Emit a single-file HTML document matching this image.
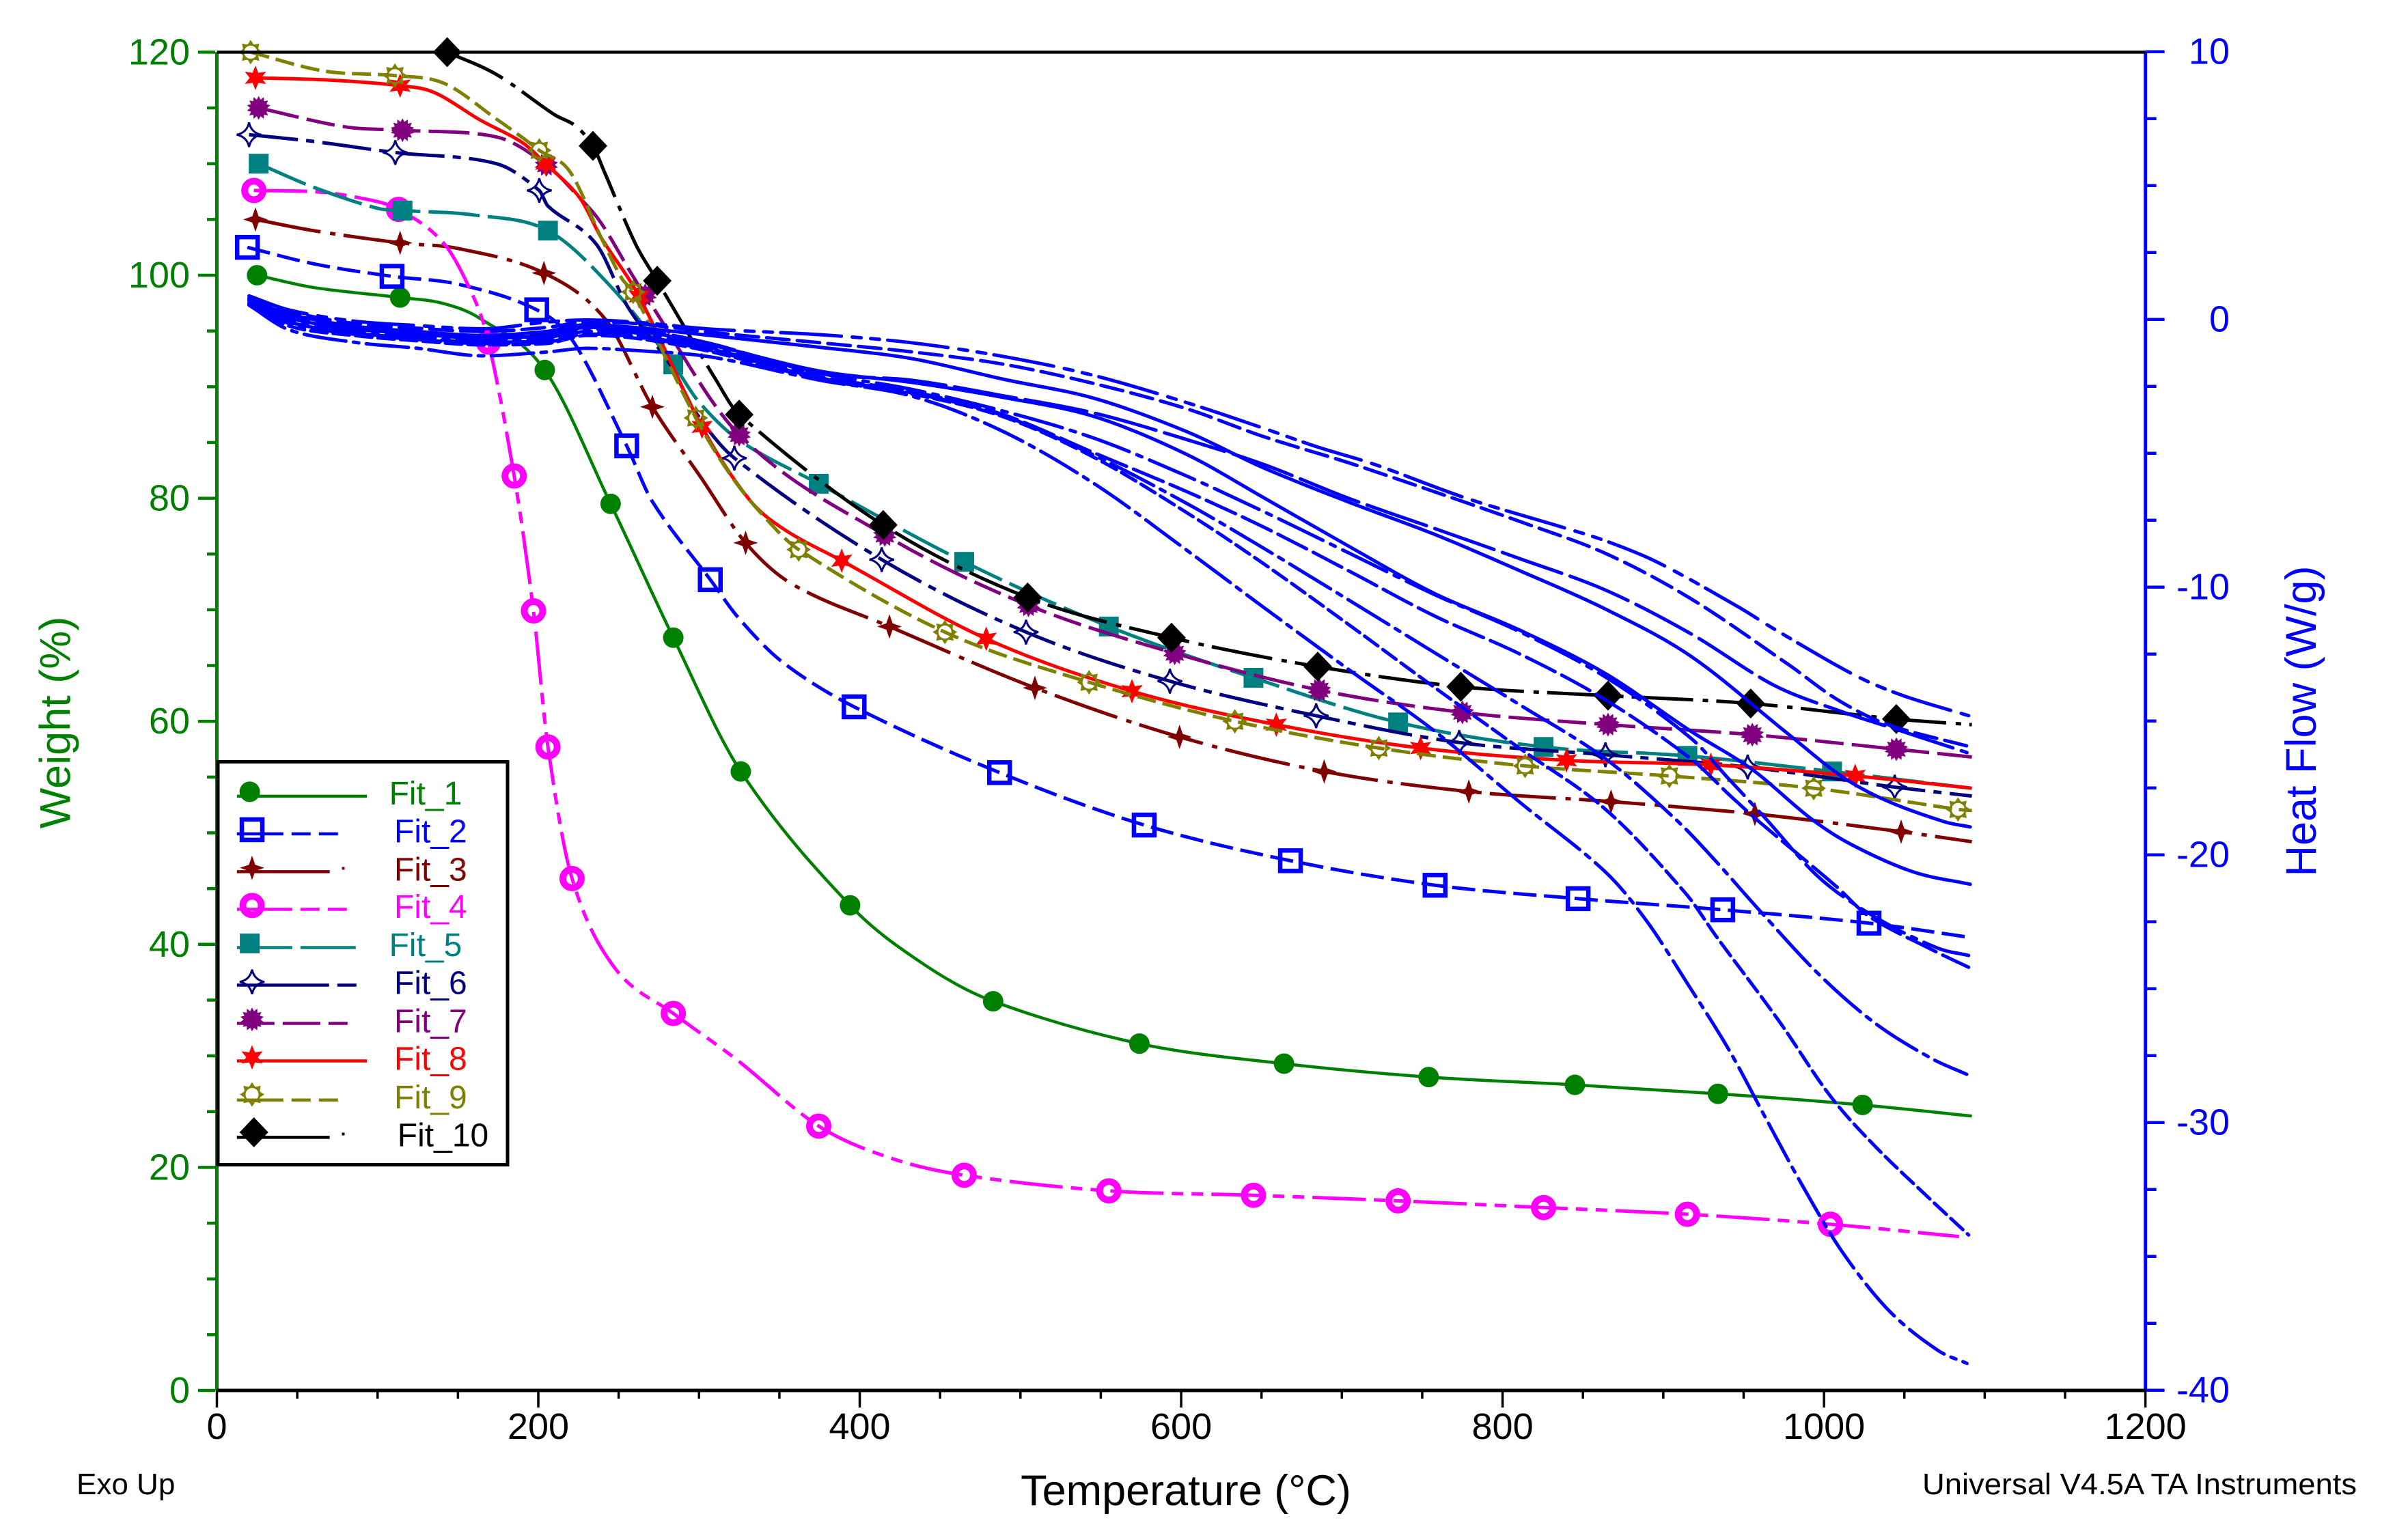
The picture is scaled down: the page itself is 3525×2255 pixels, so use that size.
<!DOCTYPE html>
<html lang="en">
<head>
<meta charset="utf-8">
<title>TGA Weight and Heat Flow vs Temperature</title>
<style>
html,body{margin:0;padding:0;background:#fff;}
svg{display:block;font-family:"Liberation Sans",Arial,sans-serif;}
</style>
</head>
<body>
<svg id="chart" xmlns="http://www.w3.org/2000/svg" width="3525" height="2255" viewBox="0 0 3525 2255">
  <rect x="0" y="0" width="3525" height="2255" fill="#ffffff"/>
  <g id="curves"></g>
  <g id="axes"></g>
  <text transform="translate(102.5,1058) rotate(-90)" text-anchor="middle" font-size="63" fill="#008000">Weight (%)</text>
  <text transform="translate(3390,1056) rotate(-90)" text-anchor="middle" font-size="63" fill="#0000ff">Heat Flow (W/g)</text>
  <text x="1736" y="2204" text-anchor="middle" font-size="63" fill="#000000">Temperature (°C)</text>
  <text x="112" y="2188" font-size="44" fill="#000000">Exo Up</text>
  <text x="2814" y="2188" font-size="44" textLength="636" lengthAdjust="spacingAndGlyphs" fill="#000000">Universal V4.5A TA Instruments</text>
  <g id="legend"></g>
</svg>
<script>
// ---------- Axis tick labels ----------
const tempTicks = [0, 200, 400, 600, 800, 1000, 1200];
const weightTicks = [0, 20, 40, 60, 80, 100, 120];
const heatTicks = [-40, -30, -20, -10, 0, 10];
const fitLabels = ['Fit_1','Fit_2','Fit_3','Fit_4','Fit_5','Fit_6','Fit_7','Fit_8','Fit_9','Fit_10'];

// ---------- Weight series (°C, %) ----------
const fit1Temps = [25,60,114,140,164,204,245,284,326,394,440,483,574,664,754,845,934,1024,1092];
const fit1Weights = [100,98.9,98,97.5,96.1,91.5,79.5,67.5,55.5,43.5,38.2,34.9,31.1,29.3,28.1,27.4,26.6,25.6,24.6];
const fit1MarkerTemps = [25,114,204,245,284,326,394,483,574,664,754,845,934,1024];

const fit2Temps = [19,61,109,150,199,222,255,271,307,325,352,396.5,487,577,668,758,847,937,1028,1092];
const fit2Weights = [102.5,101,99.9,99.2,96.9,94,84.7,79.7,72.7,69.2,65.3,61.3,55.4,50.7,47.5,45.3,44.1,43.1,41.9,40.6];
const fit2MarkerTemps = [19,109,199,255,307,396.5,487,577,668,758,847,937,1028];

const fit3Temps = [24,60,114,150,203.5,242,271,301,329,358,418.5,509,599,689,779,867.5,957,1048,1092];
const fit3Weights = [105,104,102.9,102.4,100.2,96,88.2,81.9,76,72.3,68.5,63,58.6,55.5,53.7,52.8,51.7,50.1,49.2];
const fit3MarkerTemps = [24,114,203.5,271,329,418.5,509,599,689,779,867.5,957,1048];

const fit4Temps = [23,60,90,113,141.5,159.5,169,185,197,206,221,247.5,284,324,374.5,420,465,555,645,735,825.5,915,1004,1084];
const fit4Weights = [107.6,107.5,106.9,105.9,102.8,98.1,94,82,69.9,57.7,45.9,37.9,33.8,29.6,23.7,20.8,19.3,17.9,17.5,17,16.4,15.8,14.9,13.8];
const fit4MarkerTemps = [23,113,169,185,197,206,221,284,374.5,465,555,645,735,825.5,915,1004];

const fit5Temps = [26,60,100,115.5,160,206,245,284,299.6,325,374.5,465,555,645,735,825.5,915,1005,1092];
const fit5Weights = [110,107.9,106,105.8,105.4,104,99,92,88.7,85.2,81.3,74.3,68.5,63.9,59.9,57.7,56.9,55.5,54];
const fit5MarkerTemps = [26,115.5,206,284,374.5,465,555,645,735,825.5,915,1005];

const fit6Temps = [20,60,111,174,200.6,206,236,255.5,281.5,298,322,413.7,503.5,593,684,773,864,952.5,1044,1092];
const fit6Weights = [112.6,112,111,110,107.6,106.2,102.8,97.2,92.1,87.7,83.6,74.5,68,63.6,60.5,58.1,57,55.9,54.1,53.3];
const fit6MarkerTemps = [20,111,200.6,322,413.7,503.5,593,684,773,864,952.5,1044];

const fit7Temps = [26,80,115.5,174,205,226,239,258.5,266.5,325,415.6,505,596,686,775,865.6,955.4,1045,1092];
const fit7Weights = [115,113.3,113,112.4,109.9,106.9,104.7,100,98.2,85.7,76.7,70.4,66.1,62.8,60.8,59.7,58.8,57.5,56.8];
const fit7MarkerTemps = [26,115.5,205,266.5,325,415.6,505,596,686,775,865.6,955.4,1045];

const fit8Temps = [24,70,114,135,164,190,204.5,226,239,262.7,301.9,330.6,352,388.8,478.7,569.4,659.2,749,839.8,929.6,1019.4,1092];
const fit8Weights = [117.7,117.5,117,116.4,113.9,111.9,110,106.9,103.4,98.1,86.4,80,77.3,74.4,67.4,62.7,59.7,57.6,56.5,56.1,55.1,54];
const fit8MarkerTemps = [24,114,204.5,262.7,301.9,388.8,478.7,569.4,659.2,749,839.8,929.6,1019.4];

const fit9Temps = [21,67,110.8,141.5,174,190.5,200.6,219.6,239,252,259,298,320,339,362,453,542.7,633.4,723,814,903.8,993.6,1083.4,1092];
const fit9Weights = [120,118.3,117.9,117.2,114,112.3,111.2,109.3,103.4,99.7,98.5,87.2,82,78.6,75.4,68,63.5,60,57.6,56,55.1,54,52.1,52];
const fit9MarkerTemps = [21,110.8,200.6,259,298,362,453,542.7,633.4,723,814,903.8,993.6,1083.4];

const fit10Temps = [143.3,174,210,223,234,241,260.5,274,284.6,310.6,325,414.6,504.5,594,685,774,865.6,954.4,1045,1092];
const fit10Weights = [120,118,114.4,113.4,111.6,109.3,102.8,99.5,96.9,90.6,87.5,77.6,71.1,67.5,64.9,63.1,62.3,61.6,60.2,59.7];
const fit10MarkerTemps = [143.3,234,274,325,414.6,504.5,594,685,774,865.6,954.4,1045];

// ---------- Heat-flow series (°C, W/g) ----------
const heat1Temps = [20,45,85,125,165,205,230,260,307,375,432,489,546,603,651,685,720,777,837,864,896,947,968,1019.5,1050,1090];
const heat1Flows = [0.88,0.35,-0.06,-0.23,-0.35,-0.1,-0.02,-0.1,-0.36,-0.57,-0.87,-1.38,-2.1,-3.1,-4.06,-4.77,-5.41,-6.67,-7.76,-8.27,-9.06,-10.75,-11.53,-13.3,-14.07,-14.8];

const heat2Temps = [20,45,85,125,165,205,230,260,307,375,432,489,546,603,651.4,704.5,757.7,810.8,864,917.1,977.8,1008,1038.6,1090];
const heat2Flows = [0.8,0.3,-0.15,-0.33,-0.45,-0.3,-0.1,-0.15,-0.48,-0.87,-1.21,-1.67,-2.4,-3.33,-4.38,-5.36,-6.44,-7.55,-8.74,-10.43,-12.89,-14.19,-15.11,-15.95];

const heat3Temps = [20,45,85,125,165,205,230,260,307,375,432,489,546,603,651.4,704.5,757.7,810.8,864,917.1,969.3,1011,1038.6,1089];
const heat3Flows = [0.7,0.1,-0.3,-0.5,-0.65,-0.55,-0.25,-0.35,-0.9,-2.01,-2.27,-2.85,-3.5,-4.48,-5.42,-6.69,-7.81,-8.94,-10.11,-11.74,-13.68,-14.65,-15.19,-16.18];

const heat4Temps = [20,45,85,125,165,205,230,260,307,375,432,489,546,603,651.4,704.5,757.7,810.8,864,917.1,977.8,1011,1038.6,1074.7,1091];
const heat4Flows = [0.75,0.2,-0.25,-0.45,-0.6,-0.45,-0.2,-0.3,-0.6,-1.04,-1.46,-2.23,-2.95,-4.18,-5.55,-6.83,-8.03,-9.39,-10.82,-12.58,-15.49,-17.07,-17.97,-18.76,-18.96];

const heat5Temps = [20,45,85,125,165,205,230,260,307,375,432,489,546,603,651.4,704.5,757.7,810.8,864,917.1,955.3,991.5,1016.5,1055.6,1091];
const heat5Flows = [0.7,0.05,-0.35,-0.55,-0.7,-0.6,-0.3,-0.4,-0.95,-1.93,-2.35,-2.91,-3.63,-5.03,-6.66,-8.48,-10.24,-11.61,-13.23,-15.38,-16.81,-18.63,-19.6,-20.64,-21.1];

const heat6Temps = [20,45,85,125,165,205,230,260,307,375,432,489,546,603,651.4,704.5,757.7,810.8,864,917.1,940.5,963,997,1032,1070.5,1090];
const heat6Flows = [0.62,-0.05,-0.45,-0.65,-0.78,-0.7,-0.35,-0.5,-1.05,-2.01,-2.61,-3.42,-4.44,-5.84,-7.18,-8.73,-10.28,-11.67,-13.36,-15.64,-17.15,-18.6,-20.85,-22.33,-23.48,-23.76];

const heat7Temps = [20,45,85,125,165,205,230,260,307,375,432,489,546,603,651.4,704.5,757.7,810.8,864,917.1,942.5,959.6,1008,1027.5,1069,1090];
const heat7Flows = [0.6,-0.1,-0.5,-0.7,-0.85,-0.8,-0.45,-0.6,-1.1,-2.14,-2.69,-3.55,-4.99,-6.42,-7.76,-9.4,-11.08,-12.5,-14.21,-16.41,-17.84,-18.76,-21.2,-22.28,-23.6,-24.2];

const heat8Temps = [20,45,85,125,165,205,230,260,307,375,432,489,546,603,651.4,704.5,757.7,810.8,864,907.8,930.6,961,997.4,1032,1066.7,1088.8];
const heat8Flows = [0.58,-0.15,-0.55,-0.75,-0.9,-0.85,-0.55,-0.65,-1.15,-2.18,-2.74,-3.59,-5.08,-6.86,-8.55,-10.49,-12.45,-14.4,-16.41,-18.68,-20.1,-22.15,-24.5,-26.3,-27.6,-28.2];

const heat9Temps = [20,45,85,125,165,205,230,260,307,375,432,489,546,603,651.4,704.5,757.7,810.8,864,913.5,933.6,971.9,1003.8,1032,1066.7,1090];
const heat9Flows = [0.55,-0.25,-0.6,-0.8,-0.95,-0.9,-0.6,-0.7,-1.2,-2.23,-2.78,-3.63,-5.16,-7.2,-9.13,-11.41,-13.75,-16.03,-18.3,-21.41,-23.1,-26.2,-29,-30.9,-32.9,-34.2];

const heat10Temps = [20,45,85,125,165,205,230,260,307,375,432,489,546,603,651.4,704.5,757.7,810.8,864,889.5,916,941,964.3,987,1011,1040,1070.6,1089];
const heat10Flows = [0.53,-0.39,-0.85,-1.08,-1.36,-1.22,-1.08,-1.16,-1.4,-2.27,-2.86,-4.18,-6.14,-8.6,-10.76,-13.09,-15.38,-18.04,-20.64,-22.46,-24.9,-27.3,-29.9,-32.4,-34.8,-37,-38.5,-39];

// ---------- Scales ----------
const SVGNS = 'http://www.w3.org/2000/svg';
const xScale = function (t) { return 317.5 + t * 2.3526; };
const yWeight = function (w) { return 2036 - w * 16.33; };
const yHeat = function (h) { return 75.7 + (10 - h) * 39.2; };
const fmt = function (n) { return n.toFixed(2); };

function mk(tag, attrs) {
  const el = document.createElementNS(SVGNS, tag);
  for (const k in attrs) { el.setAttribute(k, attrs[k]); }
  return el;
}

// Monotone cubic tangents through (xs, ys)
function tangents(xs, ys) {
  const n = xs.length, s = [], m = [];
  for (let i = 0; i < n - 1; i++) { s.push((ys[i + 1] - ys[i]) / (xs[i + 1] - xs[i])); }
  m[0] = s[0];
  m[n - 1] = s[n - 2];
  for (let i = 1; i < n - 1; i++) {
    if (s[i - 1] * s[i] <= 0) { m[i] = 0; continue; }
    const c = (ys[i + 1] - ys[i - 1]) / (xs[i + 1] - xs[i - 1]);
    const lim = 3 * Math.min(Math.abs(s[i - 1]), Math.abs(s[i]));
    m[i] = Math.sign(c) * Math.min(Math.abs(c), lim);
  }
  return m;
}
function curvePath(xs, ys) {
  const m = tangents(xs, ys);
  let d = 'M' + fmt(xs[0]) + ' ' + fmt(ys[0]);
  for (let i = 0; i < xs.length - 1; i++) {
    const h = (xs[i + 1] - xs[i]) / 3;
    d += 'C' + fmt(xs[i] + h) + ' ' + fmt(ys[i] + m[i] * h) + ' ' + fmt(xs[i + 1] - h) + ' ' + fmt(ys[i + 1] - m[i + 1] * h) + ' ' + fmt(xs[i + 1]) + ' ' + fmt(ys[i + 1]);
  }
  return d;
}
function valueAt(temps, values, t) {
  for (let i = 0; i < temps.length - 1; i++) {
    if (t >= temps[i] && t <= temps[i + 1]) {
      return values[i] + (values[i + 1] - values[i]) * (t - temps[i]) / (temps[i + 1] - temps[i]);
    }
  }
  return values[values.length - 1];
}

// ---------- Marker glyphs ----------
function polygonPoints(cx, cy, count, outer, inner, rot) {
  const pts = [];
  for (let i = 0; i < count * 2; i++) {
    const r = i % 2 === 0 ? outer : inner;
    const a = rot + Math.PI * i / count;
    pts.push(fmt(cx + r * Math.sin(a)) + ',' + fmt(cy - r * Math.cos(a)));
  }
  return pts.join(' ');
}
function drawMarker(parent, shape, color, cx, cy, markerName) {
  const g = mk('g', {});
  
  
  if (shape === 'circle') {
    g.appendChild(mk('circle', { cx: cx, cy: cy, r: 15, fill: color }));
  } else if (shape === 'openSquare') {
    g.appendChild(mk('rect', { x: cx - 15, y: cy - 15, width: 30, height: 30, fill: 'none', stroke: color, 'stroke-width': 6.5 }));
  } else if (shape === 'star4') {
    g.appendChild(mk('polygon', { points: polygonPoints(cx, cy, 4, 18, 6.5, 0), fill: color }));
  } else if (shape === 'ring') {
    g.appendChild(mk('circle', { cx: cx, cy: cy, r: 13.5, fill: 'none', stroke: color, 'stroke-width': 10 }));
  } else if (shape === 'square') {
    g.appendChild(mk('rect', { x: cx - 14.5, y: cy - 14.5, width: 29, height: 29, fill: color }));
  } else if (shape === 'openStar4') {
    const R = 18;
    const d = 'M' + cx + ' ' + (cy - R) + 'Q' + (cx + 3) + ' ' + (cy - 3) + ' ' + (cx + R) + ' ' + cy + 'Q' + (cx + 3) + ' ' + (cy + 3) + ' ' + cx + ' ' + (cy + R) + 'Q' + (cx - 3) + ' ' + (cy + 3) + ' ' + (cx - R) + ' ' + cy + 'Q' + (cx - 3) + ' ' + (cy - 3) + ' ' + cx + ' ' + (cy - R) + 'Z';
    g.appendChild(mk('path', { d: d, fill: 'none', stroke: color, 'stroke-width': 3 }));
  } else if (shape === 'burst') {
    g.appendChild(mk('polygon', { points: polygonPoints(cx, cy, 14, 17.5, 12.5, 0), fill: color }));
  } else if (shape === 'star6') {
    g.appendChild(mk('polygon', { points: polygonPoints(cx, cy, 6, 18, 8.5, 0), fill: color }));
  } else if (shape === 'sun') {
    g.appendChild(mk('circle', { cx: cx, cy: cy, r: 11, fill: 'none', stroke: color, 'stroke-width': 3 }));
    for (let i = 0; i < 8; i++) {
      const a = Math.PI * i / 4;
      const sx = Math.sin(a), sy = -Math.cos(a);
      const pts = [fmt(cx + 18 * sx) + ',' + fmt(cy + 18 * sy), fmt(cx + 11 * sx + 4.5 * sy) + ',' + fmt(cy + 11 * sy - 4.5 * sx), fmt(cx + 11 * sx - 4.5 * sy) + ',' + fmt(cy + 11 * sy + 4.5 * sx)];
      g.appendChild(mk('polygon', { points: pts.join(' '), fill: color }));
    }
  } else if (shape === 'diamond') {
    g.appendChild(mk('polygon', { points: cx + ',' + (cy - 22) + ' ' + (cx + 21) + ',' + cy + ' ' + cx + ',' + (cy + 22) + ' ' + (cx - 21) + ',' + cy, fill: color }));
  }
  parent.appendChild(g);
}

// ---------- Series table ----------
const weightSeries = [
  { temps: fit1Temps,  values: fit1Weights,  marks: fit1MarkerTemps,  color: '#008000', shape: 'circle',     dash: '',             legendDash: '',             width: 4.5, legendEnd: 537,   mx: 365.6, my: 1159.4, ly: 1165.9, tx: 569.6, ty: 1178 },
  { temps: fit2Temps,  values: fit2Weights,  marks: fit2MarkerTemps,  color: '#0000ff', shape: 'openSquare', dash: '34 11',        legendDash: '68 12 28 12 28', width: 5, legendEnd: 495, mx: 369, my: 1214.9, ly: 1221, tx: 577, ty: 1233.5 },
  { temps: fit3Temps,  values: fit3Weights,  marks: fit3MarkerTemps,  color: '#800000', shape: 'star4',      dash: '97 14 8 12',   legendDash: '',             width: 5, legendEnd: 482.7, mx: 369, my: 1270.8, ly: 1276.4, tx: 577, ty: 1289.5, dotY: 1271.5 },
  { temps: fit4Temps,  values: fit4Weights,  marks: fit4MarkerTemps,  color: '#ff00ff', shape: 'ring',       dash: '78 12 17 12 17 12', legendDash: '81 12 28 12 28', width: 5, legendEnd: 509, mx: 369, my: 1325.9, ly: 1331.5, tx: 577, ty: 1344 },
  { temps: fit5Temps,  values: fit5Weights,  marks: fit5MarkerTemps,  color: '#008080', shape: 'square',     dash: '75 12',        legendDash: '81 12 81',     width: 5, legendEnd: 522.5, mx: 365.6, my: 1381.4, ly: 1387.5, tx: 569.6, ty: 1400 },
  { temps: fit6Temps,  values: fit6Weights,  marks: fit6MarkerTemps,  color: '#000080', shape: 'openStar4',  dash: '72 12 12 12',  legendDash: '135 12 28',    width: 5, legendEnd: 522.5, mx: 369, my: 1437.7, ly: 1442.5, tx: 577, ty: 1455.5 },
  { temps: fit7Temps,  values: fit7Weights,  marks: fit7MarkerTemps,  color: '#800080', shape: 'burst',      dash: '60 12 42 12',  legendDash: '55 12 55 12 28', width: 5, legendEnd: 509, mx: 369, my: 1492.8, ly: 1498.5, tx: 577, ty: 1511.5 },
  { temps: fit8Temps,  values: fit8Weights,  marks: fit8MarkerTemps,  color: '#ff0000', shape: 'star6',      dash: '',             legendDash: '',             width: 5, legendEnd: 537,   mx: 369, my: 1548.3, ly: 1553.5, tx: 577, ty: 1566.5 },
  { temps: fit9Temps,  values: fit9Weights,  marks: fit9MarkerTemps,  color: '#808000', shape: 'sun',        dash: '28 10',        legendDash: '68 12 28 12 28', width: 5, legendEnd: 495, mx: 369, my: 1602.6, ly: 1610.8, tx: 577, ty: 1623 },
  { temps: fit10Temps, values: fit10Weights, marks: fit10MarkerTemps, color: '#000000', shape: 'diamond',    dash: '90 14 8 12',   legendDash: '',             width: 5, legendEnd: 482.7, mx: 371.7, my: 1658, ly: 1665.4, tx: 581.8, ty: 1678.4, dotY: 1660.5 }
];
const heatSeries = [
  { temps: heat1Temps,  values: heat1Flows,  dash: '89 16 13 14 13 12' },
  { temps: heat2Temps,  values: heat2Flows,  dash: '33 12' },
  { temps: heat3Temps,  values: heat3Flows,  dash: '92 13' },
  { temps: heat4Temps,  values: heat4Flows,  dash: '' },
  { temps: heat5Temps,  values: heat5Flows,  dash: '' },
  { temps: heat6Temps,  values: heat6Flows,  dash: '72 12 8 12' },
  { temps: heat7Temps,  values: heat7Flows,  dash: '47 11' },
  { temps: heat8Temps,  values: heat8Flows,  dash: '70 11 8 11' },
  { temps: heat9Temps,  values: heat9Flows,  dash: '24 9' },
  { temps: heat10Temps, values: heat10Flows, dash: '62 11 8 11' }
];

// ---------- Draw curves ----------
const curvesLayer = document.getElementById('curves');
weightSeries.forEach(function (s, i) {
  const g = mk('g', {});
  
  
  const xs = s.temps.map(xScale);
  const ys = s.values.map(yWeight);
  const path = mk('path', { d: curvePath(xs, ys), fill: 'none', stroke: s.color, 'stroke-width': s.width, 'stroke-linecap': 'butt', 'stroke-linejoin': 'round' });
  if (s.dash) { path.setAttribute('stroke-dasharray', s.dash); }
  
  
  g.appendChild(path);
  s.marks.forEach(function (t, k) {
    const w = valueAt(s.temps, s.values, t);
    drawMarker(g, s.shape, s.color, xScale(t), yWeight(w), 'fit-' + (i + 1) + '-marker-' + (k + 1));
  });
  curvesLayer.appendChild(g);
});
heatSeries.forEach(function (s, i) {
  const xs = s.temps.map(xScale);
  const ys = s.values.map(yHeat);
  const path = mk('path', { d: curvePath(xs, ys), fill: 'none', stroke: '#0000ff', 'stroke-width': 5, 'stroke-linecap': 'round', 'stroke-linejoin': 'round' });
  if (s.dash) { path.setAttribute('stroke-dasharray', s.dash); }
  
  
  curvesLayer.appendChild(path);
});

// ---------- Draw axes ----------
const axesLayer = document.getElementById('axes');
function line(x1, y1, x2, y2, color, w, name) {
  const el = mk('line', { x1: x1, y1: y1, x2: x2, y2: y2, stroke: color, 'stroke-width': w });
  
  
  axesLayer.appendChild(el);
}
function label(x, y, str, color, anchor, name) {
  const el = mk('text', { x: x, y: y, fill: color, 'font-size': 54, 'text-anchor': anchor });
  el.textContent = str;
  
  
  axesLayer.appendChild(el);
}
line(317.5, yWeight(120), 317.5, yWeight(0), '#008000', 5, 'left-axis-line');
line(xScale(1200), yHeat(10), xScale(1200), yHeat(-40), '#0000ff', 5, 'right-axis-line');
line(317.5, yWeight(120), xScale(1200), yWeight(120), '#000000', 4.5, 'top-border-line');
line(317.5, yWeight(0), xScale(1200), yWeight(0), '#000000', 5, 'x-axis-line');

weightTicks.forEach(function (v, i) {
  line(290, yWeight(v), 315, yWeight(v), '#008000', 4.5, 'weight-major-tick');
  label(278, yWeight(v) + 18, String(v), '#008000', 'end', 'weight-tick-label');
  if (i < weightTicks.length - 1) {
    const step = (weightTicks[i + 1] - v) / 4;
    for (let k = 1; k < 4; k++) { line(303, yWeight(v + k * step), 315, yWeight(v + k * step), '#008000', 4.5, 'weight-minor-tick'); }
  }
});
heatTicks.forEach(function (v, i) {
  const rx = xScale(1200);
  line(rx, yHeat(v), rx + 28, yHeat(v), '#0000ff', 4.5, 'heat-major-tick');
  label(3264, yHeat(v) + 18, String(v), '#0000ff', 'end', 'heat-tick-label');
  if (i < heatTicks.length - 1) {
    const step = (heatTicks[i + 1] - v) / 4;
    for (let k = 1; k < 4; k++) { line(rx, yHeat(v + k * step), rx + 16, yHeat(v + k * step), '#0000ff', 4.5, 'heat-minor-tick'); }
  }
});
tempTicks.forEach(function (v, i) {
  line(xScale(v), yWeight(0), xScale(v), 2061, '#000000', 3.5, 'temperature-major-tick');
  label(xScale(v), 2107, String(v), '#000000', 'middle', 'temperature-tick-label');
  if (i < tempTicks.length - 1) {
    const step = (tempTicks[i + 1] - v) / 4;
    for (let k = 1; k < 4; k++) { line(xScale(v + k * step), yWeight(0), xScale(v + k * step), 2048, '#000000', 3.5, 'temperature-minor-tick'); }
  }
});

// ---------- Draw legend ----------
const legendLayer = document.getElementById('legend');
const legendBox = mk('rect', { x: 319, y: 1115.5, width: 424, height: 590, fill: '#ffffff', stroke: '#000000', 'stroke-width': 5 });


legendLayer.appendChild(legendBox);
weightSeries.forEach(function (s, i) {
  const g = mk('g', {});
  
  
  const swatch = mk('line', { x1: 346.8, y1: s.ly, x2: s.legendEnd, y2: s.ly, stroke: s.color, 'stroke-width': 4.5 });
  if (s.legendDash) { swatch.setAttribute('stroke-dasharray', s.legendDash); }
  
  
  g.appendChild(swatch);
  if (s.dotY) {
    const dot = mk('rect', { x: 500.5, y: s.dotY - 2, width: 4, height: 4, fill: s.color });
    
    
    g.appendChild(dot);
  }
  drawMarker(g, s.shape, s.color, s.mx, s.my, 'legend-marker');
  const t = mk('text', { x: s.tx, y: s.ty, fill: s.color, 'font-size': 48 });
  t.textContent = fitLabels[i];
  
  
  g.appendChild(t);
  legendLayer.appendChild(g);
});
</script>
</body>
</html>
